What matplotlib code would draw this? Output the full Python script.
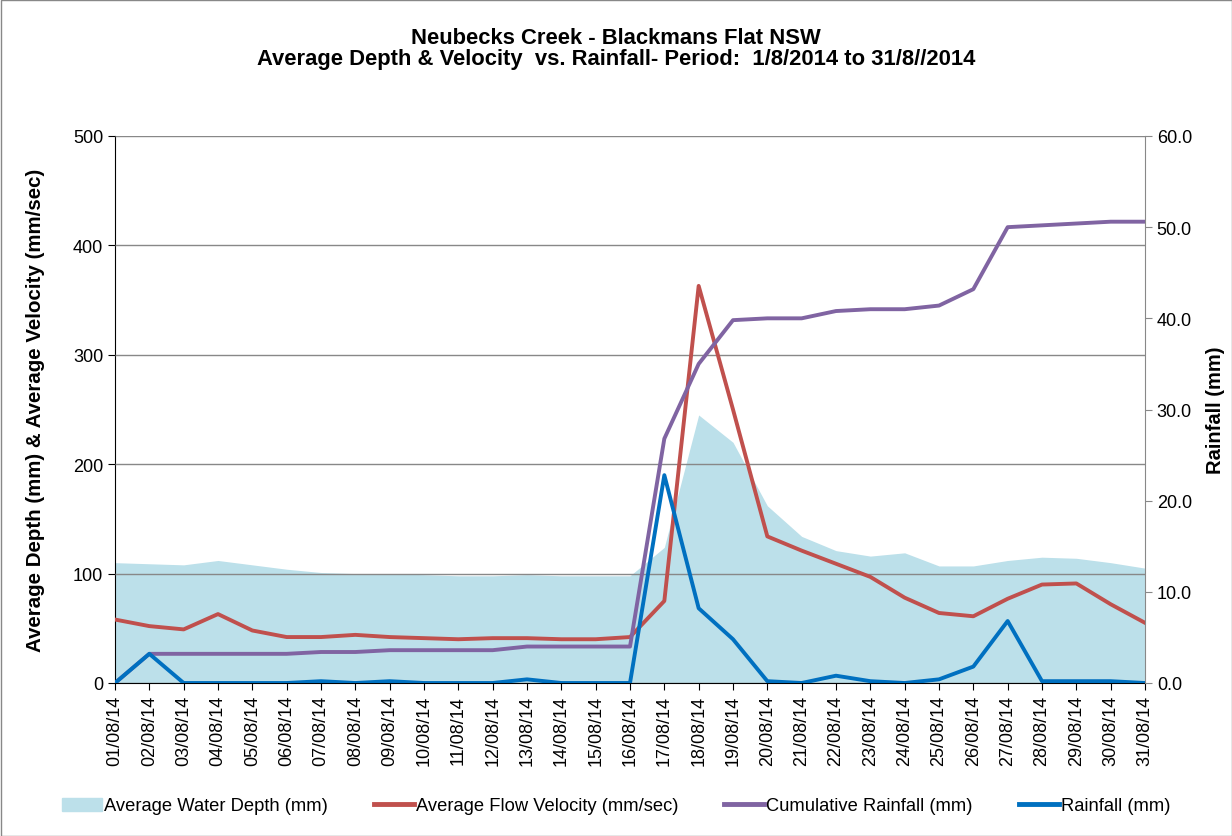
import numpy as np
import matplotlib
matplotlib.use("Agg")
import matplotlib.pyplot as plt
from matplotlib.patches import Patch
from matplotlib.lines import Line2D

plt.rcParams['font.family'] = ['Liberation Sans', 'DejaVu Sans']

dates = ["%02d/08/14" % d for d in range(1, 32)]
depth = [110, 109, 108, 112, 108, 104, 101, 100, 100, 99, 98, 98, 99, 98, 98, 98,
         124, 245, 220, 162, 134, 121, 116, 119, 107, 107, 112, 115, 114, 110, 105]
velocity = [58, 52, 49, 63, 48, 42, 42, 44, 42, 41, 40, 41, 41, 40, 40, 42,
            75, 363, 250, 134, 121, 109, 97, 78, 64, 61, 77, 90, 91, 72, 55]
rain = [0, 3.2, 0, 0, 0, 0, 0.2, 0, 0.2, 0, 0, 0, 0.4, 0, 0, 0,
        22.8, 8.2, 4.8, 0.2, 0, 0.8, 0.2, 0, 0.4, 1.8, 6.8, 0.2, 0.2, 0.2, 0]
cum_rain = [0, 3.2, 3.2, 3.2, 3.2, 3.2, 3.4, 3.4, 3.6, 3.6, 3.6, 3.6, 4.0, 4.0, 4.0, 4.0,
            26.8, 35.0, 39.8, 40.0, 40.0, 40.8, 41.0, 41.0, 41.4, 43.2, 50.0, 50.2, 50.4, 50.6, 50.6]

c_area = '#BCE0EA'
c_red = '#C0504D'
c_purple = '#8064A2'
c_blue = '#0070C0'

fig = plt.figure(figsize=(12.32, 8.37), dpi=100)
ax = fig.add_axes([115/1232, 1-684/837, 1030/1232, 547/837])
x = np.arange(len(dates))

ax.fill_between(x, depth, 0, color=c_area, lw=0, zorder=1)
ax.plot(x, velocity, color=c_red, lw=2.8, zorder=3)
ax.set_xlim(0, len(dates) - 1)
ax.set_ylim(0, 500)
ax.set_yticks(range(0, 501, 100))
ax.yaxis.grid(True, color='#888888', lw=1)
ax.set_axisbelow(False)
for gl in ax.get_ygridlines():
    gl.set_zorder(2)
ax.set_xticks(x)
ax.set_xticklabels(dates, rotation=90, fontsize=13)
ax.tick_params(axis='y', labelsize=13, length=5, direction='out')
ax.tick_params(axis='x', length=5, direction='out')
ax.spines['top'].set_visible(False)
ax.spines['right'].set_visible(False)
ax.set_ylabel("Average Depth (mm) & Average Velocity (mm/sec)", fontsize=14.8,
              fontweight='bold', labelpad=20)

ax2 = ax.twinx()
ax2.plot(x, cum_rain, color=c_purple, lw=2.8, zorder=3)
ax2.plot(x, rain, color=c_blue, lw=2.8, zorder=4)
ax2.set_ylim(0, 60)
ax2.set_yticks(range(0, 61, 10))
ax2.set_yticklabels(["%.1f" % v for v in range(0, 61, 10)])
ax2.tick_params(axis='y', labelsize=13, length=5, direction='out', color='#888888')
ax2.spines['top'].set_visible(False)
ax2.spines['left'].set_visible(False)
ax2.spines['bottom'].set_visible(False)
ax2.spines['right'].set_color('#888888')
ax2.set_ylabel("Rainfall (mm)", fontsize=14.5, fontweight='bold', labelpad=10)

fig.text(0.5, 1-38/837, "Neubecks Creek - Blackmans Flat NSW", ha='center', va='center',
         fontsize=15.8, fontweight='bold')
fig.text(0.5, 1-60/837, "Average Depth & Velocity  vs. Rainfall- Period:  1/8/2014 to 31/8//2014",
         ha='center', va='center', fontsize=15.8, fontweight='bold')

handles = [Patch(color=c_area),
           Line2D([], [], color=c_red, lw=3.5),
           Line2D([], [], color=c_purple, lw=3.5),
           Line2D([], [], color=c_blue, lw=3.5)]
labels = ["Average Water Depth (mm)", "Average Flow Velocity (mm/sec)",
          "Cumulative Rainfall (mm)", "Rainfall (mm)"]
fig.legend(handles, labels, loc='center', bbox_to_anchor=(0.5, 1-807/837), ncol=4,
           frameon=False, fontsize=13.2, handlelength=2.2, handletextpad=0.1,
           columnspacing=2.5)

fig.patches.append(plt.Rectangle((0.5/1232, 0.5/837), 1-1/1232, 1-1/837, transform=fig.transFigure,
                                 fill=False, edgecolor='#888888', lw=1))

fig.savefig("out.png", dpi=100)
